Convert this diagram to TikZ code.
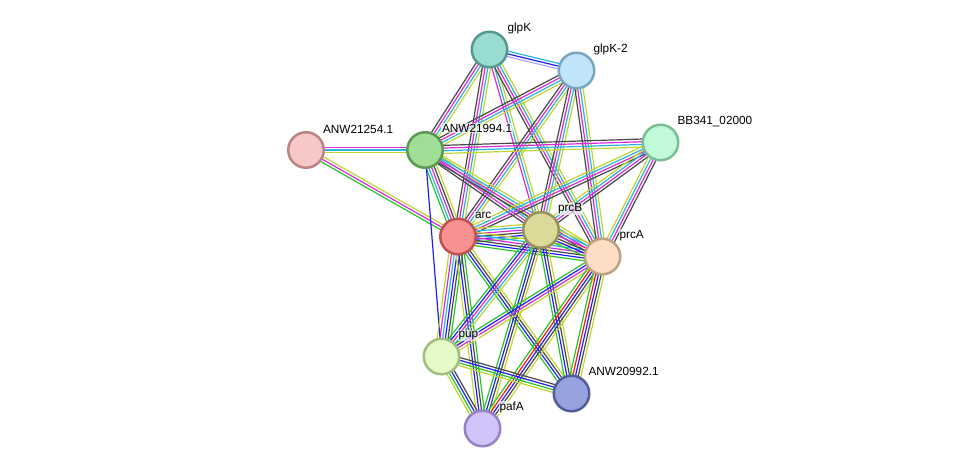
\documentclass[tikz,border=0pt]{standalone}
\usepackage{fontspec}
\setmainfont{Liberation Sans}
\usetikzlibrary{calc,backgrounds}

\definecolor{nb}{RGB}{40,196,40}   % neighborhood
\definecolor{fu}{RGB}{250,20,20}   % fusion
\definecolor{co}{RGB}{30,30,250}   % cooccurrence
\definecolor{cx}{RGB}{72,72,72}    % coexpression
\definecolor{ex}{RGB}{220,40,220}  % experiments
\definecolor{db}{RGB}{40,180,225}  % databases
\definecolor{tm}{RGB}{192,214,45}  % textmining
\definecolor{ho}{RGB}{175,165,250} % homology

\tikzset{
  prot/.style={circle,draw,line width=2.5pt,minimum size=35.5pt,inner sep=0pt},
  plabel/.style={anchor=west,font=\fontsize{11.8}{13}\selectfont,fill=white,
    fill opacity=0.65,text opacity=1,inner sep=0.8pt},
}

% bundle of parallel lines between two nodes, one per evidence colour
\newcommand{\lnk}[3]{%
  \foreach \c [count=\i] in {#3}{\xdef\nlin{\i}}%
  \foreach \c [count=\i] in {#3}{%
    \pgfmathsetmacro{\o}{(\i-(\nlin+1)/2)*2.7}%
    \draw[\c,line width=1.2pt] ($(#1)!\o pt!90:(#2)$) -- ($(#2)!\o pt!-90:(#1)$);}}

\begin{document}
\begin{tikzpicture}[x=1pt,y=-1pt]
\useasboundingbox (0,0) rectangle (976,474);
% proteins
\node[prot,fill={rgb,255:red,152;green,220;blue,212},draw={rgb,255:red,84;green,152;blue,142}] (glpK) at (489.5,49.5) {};
\node[prot,fill={rgb,255:red,192;green,228;blue,250},draw={rgb,255:red,120;green,165;blue,192}] (glpK2) at (576.5,70.5) {};
\node[prot,fill={rgb,255:red,248;green,200;blue,200},draw={rgb,255:red,188;green,132;blue,132}] (anw254) at (306,150) {};
\node[prot,fill={rgb,255:red,160;green,222;blue,150},draw={rgb,255:red,92;green,152;blue,84}] (anw994) at (425,150) {};
\node[prot,fill={rgb,255:red,192;green,250;blue,216},draw={rgb,255:red,122;green,190;blue,150}] (bb341) at (660.5,142.5) {};
\node[prot,fill={rgb,255:red,250;green,145;blue,145},draw={rgb,255:red,190;green,82;blue,82}] (arc) at (458,236.5) {};
\node[prot,fill={rgb,255:red,220;green,218;blue,152},draw={rgb,255:red,152;green,146;blue,92}] (prcB) at (541,230) {};
\node[prot,fill={rgb,255:red,253;green,222;blue,196},draw={rgb,255:red,190;green,160;blue,130}] (prcA) at (602.5,256.5) {};
\node[prot,fill={rgb,255:red,230;green,250;blue,200},draw={rgb,255:red,160;green,190;blue,130}] (pup) at (441.5,356.5) {};
\node[prot,fill={rgb,255:red,152;green,162;blue,222},draw={rgb,255:red,82;green,92;blue,152}] (anw992) at (571.5,393.5) {};
\node[prot,fill={rgb,255:red,210;green,195;blue,250},draw={rgb,255:red,150;green,130;blue,200}] (pafA) at (482.5,428.5) {};

% names
\node[plabel] (glpK-t) at ([shift={(17,-21)}]glpK) {glpK};
\node[plabel] (glpK2-t) at ([shift={(16,-21)}]glpK2) {glpK-2};
\node[plabel] (anw254-t) at ([shift={(16,-21)}]anw254) {ANW21254.1};
\node[plabel] (anw994-t) at ([shift={(16,-22)}]anw994) {ANW21994.1};
\node[plabel] (bb341-t) at ([shift={(16,-21)}]bb341) {BB341\_02000};
\node[plabel] (arc-t) at ([shift={(16,-21)}]arc) {arc};
\node[plabel] (prcB-t) at ([shift={(16,-21)}]prcB) {prcB};
\node[plabel] (prcA-t) at ([shift={(16,-21)}]prcA) {prcA};
\node[plabel] (pup-t) at ([shift={(16,-21)}]pup) {pup};
\node[plabel] (anw992-t) at ([shift={(16,-22)}]anw992) {ANW20992.1};
\node[plabel] (pafA-t) at ([shift={(16,-21)}]pafA) {pafA};

\begin{pgfonlayer}{background}
% upper cluster
\lnk{glpK}{glpK2}{ho,co,db}
\lnk{glpK}{anw994}{cx,ex,db,tm}
\lnk{glpK}{arc}{cx,ex,db,tm}
\lnk{glpK}{prcB}{ex,db,tm}
\lnk{glpK}{prcA}{cx,ex,db,tm}
\lnk{glpK2}{anw994}{cx,ex,db,tm}
\lnk{glpK2}{arc}{cx,ex,db,tm}
\lnk{glpK2}{prcB}{cx,ex,db,tm}
\lnk{glpK2}{prcA}{cx,ex,db,tm}
\lnk{anw254}{anw994}{tm,db,ex}
\lnk{anw254}{arc}{nb,ex,tm}
\lnk{anw994}{bb341}{tm,db,ex,cx}
\lnk{anw994}{arc}{nb,db,ex,cx,tm}
\lnk{anw994}{prcB}{cx,ex,db,tm}
\lnk{anw994}{prcA}{cx,ex,db,tm}
\lnk{anw994}{pup}{co}
\lnk{bb341}{arc}{tm,db,ex,cx}
\lnk{bb341}{prcB}{tm,db,ex,cx}
\lnk{bb341}{prcA}{tm,db,ex,cx}
\lnk{arc}{prcB}{nb,co,cx,ex,db,tm}
\lnk{arc}{prcA}{nb,co,cx,ex,db,tm}
\lnk{prcB}{prcA}{nb,co,cx,ex,db,tm}
% lower cluster
\lnk{arc}{pup}{tm,ex,db,co,cx,nb}
\lnk{arc}{pafA}{tm,co,cx,nb}
\lnk{arc}{anw992}{nb,co,cx,tm}
\lnk{prcB}{pup}{nb,co,ex,db,tm}
\lnk{prcB}{pafA}{nb,co,cx,tm}
\lnk{prcB}{anw992}{nb,co,cx,tm}
\lnk{prcA}{pup}{nb,co,ex,tm}
\lnk{prcA}{pafA}{nb,fu,co,cx,tm}
\lnk{prcA}{anw992}{nb,fu,co,cx,tm}
\lnk{pup}{pafA}{tm,nb,co,cx}
\lnk{pup}{anw992}{tm,nb,co,cx}
\end{pgfonlayer}
\end{tikzpicture}
\end{document}
